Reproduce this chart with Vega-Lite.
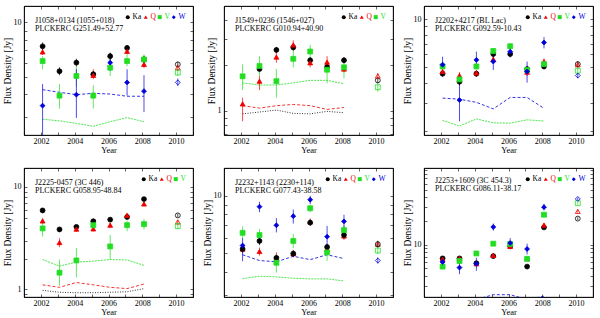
{
"$schema": "https://vega.github.io/schema/vega-lite/v6.json",
"background": "white",
"padding": {"left": 1, "top": 5, "right": 0, "bottom": 0},
"bounds": "flush",
"columns": 3,
"spacing": {"row": 33, "column": 31},
"datasets": {
"pts": [
{"p":1,"b":"Ka","x":2002.1,"y":7.37,"lo":7.0,"hi":7.75},{"p":1,"b":"Ka","x":2003.1,"y":5.37,"lo":5.1,"hi":5.65},{"p":1,"b":"Ka","x":2004.1,"y":5.99,"lo":5.7,"hi":6.3},{"p":1,"b":"Ka","x":2005.1,"y":5.17,"lo":4.95,"hi":5.4},{"p":1,"b":"Ka","x":2006.1,"y":6.5,"lo":6.2,"hi":6.8},{"p":1,"b":"Ka","x":2007.1,"y":7.22,"lo":6.95,"hi":7.5},{"p":1,"b":"Ka","x":2008.1,"y":6.24,"lo":5.95,"hi":6.55},{"p":1,"b":"Ka","x":2010.1,"y":5.86,"lo":5.65,"hi":6.05},
{"p":1,"b":"Q","x":2002.1,"y":6.87,"lo":6.6,"hi":7.15},{"p":1,"b":"Q","x":2005.1,"y":5.1,"lo":4.86,"hi":5.51},{"p":1,"b":"Q","x":2007.1,"y":6.92,"lo":6.65,"hi":7.2},{"p":1,"b":"Q","x":2008.1,"y":5.86,"lo":5.6,"hi":6.1},{"p":1,"b":"Q","x":2010.1,"y":5.62,"lo":5.4,"hi":5.85},
{"p":1,"b":"V","x":2002.1,"y":6.11,"lo":5.51,"hi":6.5},{"p":1,"b":"V","x":2003.1,"y":3.94,"lo":3.34,"hi":4.56},{"p":1,"b":"V","x":2004.1,"y":5.06,"lo":4.43,"hi":5.73},{"p":1,"b":"V","x":2005.1,"y":3.94,"lo":3.34,"hi":4.5},{"p":1,"b":"V","x":2006.1,"y":5.62,"lo":5.06,"hi":6.24},{"p":1,"b":"V","x":2007.1,"y":6.11,"lo":5.73,"hi":6.64},{"p":1,"b":"V","x":2008.1,"y":6.24,"lo":5.86,"hi":6.64},{"p":1,"b":"V","x":2010.1,"y":5.28,"lo":5.06,"hi":5.51},
{"p":1,"b":"W","x":2002.1,"y":3.47,"lo":2.2,"hi":4.56},{"p":1,"b":"W","x":2004.1,"y":3.99,"lo":2.97,"hi":5.51},{"p":1,"b":"W","x":2006.1,"y":5.99,"lo":5.39,"hi":6.78},{"p":1,"b":"W","x":2007.1,"y":4.66,"lo":3.94,"hi":5.51},{"p":1,"b":"W","x":2008.1,"y":4.17,"lo":3.2,"hi":5.11},{"p":1,"b":"W","x":2010.1,"y":4.66,"lo":4.45,"hi":4.9},
{"p":2,"b":"Ka","x":2003.1,"y":1.89,"lo":1.8,"hi":1.98},{"p":2,"b":"Ka","x":2004.1,"y":2.53,"lo":2.42,"hi":2.65},{"p":2,"b":"Ka","x":2005.1,"y":2.63,"lo":2.5,"hi":2.76},{"p":2,"b":"Ka","x":2006.1,"y":2.16,"lo":2.06,"hi":2.26},{"p":2,"b":"Ka","x":2007.1,"y":1.95,"lo":1.86,"hi":2.04},{"p":2,"b":"Ka","x":2008.1,"y":2.16,"lo":2.06,"hi":2.26},{"p":2,"b":"Ka","x":2010.1,"y":1.59,"lo":1.52,"hi":1.66},
{"p":2,"b":"Q","x":2002.1,"y":1.11,"lo":0.85,"hi":1.22},{"p":2,"b":"Q","x":2003.1,"y":1.57,"lo":1.37,"hi":1.71},{"p":2,"b":"Q","x":2004.1,"y":2.27,"lo":2.08,"hi":2.47},{"p":2,"b":"Q","x":2005.1,"y":2.73,"lo":2.53,"hi":2.93},{"p":2,"b":"Q","x":2006.1,"y":2.08,"lo":1.94,"hi":2.2},{"p":2,"b":"Q","x":2007.1,"y":2.1,"lo":1.94,"hi":2.3},{"p":2,"b":"Q","x":2008.1,"y":1.89,"lo":1.8,"hi":1.97},{"p":2,"b":"Q","x":2010.1,"y":1.7,"lo":1.62,"hi":1.78},
{"p":2,"b":"V","x":2002.1,"y":1.69,"lo":1.37,"hi":2.03},{"p":2,"b":"V","x":2003.1,"y":1.98,"lo":1.71,"hi":2.3},{"p":2,"b":"V","x":2004.1,"y":1.57,"lo":1.22,"hi":1.89},{"p":2,"b":"V","x":2005.1,"y":2.21,"lo":1.94,"hi":2.53},{"p":2,"b":"V","x":2006.1,"y":2.47,"lo":2.19,"hi":2.73},{"p":2,"b":"V","x":2007.1,"y":1.87,"lo":1.52,"hi":2.08},{"p":2,"b":"V","x":2008.1,"y":1.94,"lo":1.64,"hi":2.16},{"p":2,"b":"V","x":2010.1,"y":1.43,"lo":1.34,"hi":1.52},
{"p":3,"b":"Ka","x":2002.1,"y":4.55,"lo":4.35,"hi":4.75},{"p":3,"b":"Ka","x":2003.1,"y":4.05,"lo":3.85,"hi":4.25},{"p":3,"b":"Ka","x":2004.1,"y":4.55,"lo":4.35,"hi":4.75},{"p":3,"b":"Ka","x":2005.1,"y":6.04,"lo":5.8,"hi":6.3},{"p":3,"b":"Ka","x":2006.1,"y":6.04,"lo":5.8,"hi":6.3},{"p":3,"b":"Ka","x":2007.1,"y":4.86,"lo":4.65,"hi":5.1},{"p":3,"b":"Ka","x":2008.1,"y":5.05,"lo":4.85,"hi":5.25},{"p":3,"b":"Ka","x":2010.1,"y":5.22,"lo":5.0,"hi":5.45},
{"p":3,"b":"Q","x":2002.1,"y":4.7,"lo":4.5,"hi":4.9},{"p":3,"b":"Q","x":2003.1,"y":4.43,"lo":4.2,"hi":4.65},{"p":3,"b":"Q","x":2004.1,"y":4.6,"lo":4.4,"hi":4.8},{"p":3,"b":"Q","x":2005.1,"y":5.6,"lo":5.35,"hi":5.85},{"p":3,"b":"Q","x":2007.1,"y":4.65,"lo":4.4,"hi":4.9},{"p":3,"b":"Q","x":2008.1,"y":5.42,"lo":5.2,"hi":5.65},{"p":3,"b":"Q","x":2010.1,"y":5.18,"lo":4.95,"hi":5.4},
{"p":3,"b":"V","x":2002.1,"y":5.05,"lo":4.85,"hi":5.25},{"p":3,"b":"V","x":2003.1,"y":4.19,"lo":4.0,"hi":4.4},{"p":3,"b":"V","x":2004.1,"y":5.05,"lo":4.85,"hi":5.25},{"p":3,"b":"V","x":2005.1,"y":6.31,"lo":6.05,"hi":6.55},{"p":3,"b":"V","x":2006.1,"y":6.76,"lo":6.5,"hi":7.0},{"p":3,"b":"V","x":2007.1,"y":4.8,"lo":4.6,"hi":5.0},{"p":3,"b":"V","x":2008.1,"y":5.22,"lo":5.0,"hi":5.45},{"p":3,"b":"V","x":2010.1,"y":4.75,"lo":4.55,"hi":4.95},
{"p":3,"b":"W","x":2002.1,"y":5.18,"lo":4.39,"hi":5.81},{"p":3,"b":"W","x":2003.1,"y":3.11,"lo":2.29,"hi":3.9},{"p":3,"b":"W","x":2004.1,"y":5.55,"lo":4.93,"hi":6.25},{"p":3,"b":"W","x":2005.1,"y":5.42,"lo":4.8,"hi":6.1},{"p":3,"b":"W","x":2006.1,"y":6.25,"lo":5.75,"hi":6.7},{"p":3,"b":"W","x":2007.1,"y":4.7,"lo":4.0,"hi":5.42},{"p":3,"b":"W","x":2008.1,"y":7.13,"lo":6.55,"hi":7.71},{"p":3,"b":"W","x":2010.1,"y":4.43,"lo":4.25,"hi":4.6},
{"p":4,"b":"Ka","x":2002.1,"y":5.9,"lo":5.65,"hi":6.15},{"p":4,"b":"Ka","x":2003.1,"y":3.85,"lo":3.68,"hi":4.02},{"p":4,"b":"Ka","x":2004.1,"y":4.08,"lo":3.9,"hi":4.26},{"p":4,"b":"Ka","x":2005.1,"y":4.63,"lo":4.45,"hi":4.82},{"p":4,"b":"Ka","x":2006.1,"y":4.8,"lo":4.6,"hi":5.0},{"p":4,"b":"Ka","x":2007.1,"y":5.09,"lo":4.88,"hi":5.3},{"p":4,"b":"Ka","x":2008.1,"y":7.61,"lo":7.3,"hi":7.9},{"p":4,"b":"Ka","x":2010.1,"y":5.28,"lo":5.08,"hi":5.48},
{"p":4,"b":"Q","x":2002.1,"y":4.66,"lo":4.4,"hi":4.95},{"p":4,"b":"Q","x":2003.1,"y":2.87,"lo":2.59,"hi":3.16},{"p":4,"b":"Q","x":2004.1,"y":3.88,"lo":3.65,"hi":4.1},{"p":4,"b":"Q","x":2005.1,"y":3.9,"lo":3.68,"hi":4.12},{"p":4,"b":"Q","x":2006.1,"y":4.24,"lo":4.0,"hi":4.48},{"p":4,"b":"Q","x":2007.1,"y":5.28,"lo":5.0,"hi":5.55},{"p":4,"b":"Q","x":2008.1,"y":6.82,"lo":6.5,"hi":7.15},{"p":4,"b":"Q","x":2010.1,"y":4.56,"lo":4.35,"hi":4.78},
{"p":4,"b":"V","x":2002.1,"y":3.94,"lo":3.28,"hi":4.56},{"p":4,"b":"V","x":2003.1,"y":1.46,"lo":1.09,"hi":1.96},{"p":4,"b":"V","x":2004.1,"y":1.92,"lo":1.31,"hi":2.54},{"p":4,"b":"V","x":2005.1,"y":4.24,"lo":3.85,"hi":4.7},{"p":4,"b":"V","x":2006.1,"y":2.63,"lo":1.96,"hi":3.4},{"p":4,"b":"V","x":2007.1,"y":4.24,"lo":3.7,"hi":4.7},{"p":4,"b":"V","x":2008.1,"y":4.34,"lo":3.85,"hi":4.85},{"p":4,"b":"V","x":2010.1,"y":4.15,"lo":3.9,"hi":4.4},
{"p":5,"b":"Q","x":2002.1,"y":5.25,"lo":5.0,"hi":5.5},{"p":5,"b":"Q","x":2003.1,"y":5.1,"lo":4.85,"hi":5.35},{"p":5,"b":"Q","x":2004.1,"y":4.72,"lo":4.55,"hi":5.05},{"p":5,"b":"Q","x":2005.1,"y":4.97,"lo":4.75,"hi":5.2},{"p":5,"b":"Q","x":2006.1,"y":7.3,"lo":7.0,"hi":7.6},{"p":5,"b":"Q","x":2007.1,"y":5.25,"lo":5.0,"hi":5.5},{"p":5,"b":"Q","x":2008.1,"y":6.15,"lo":5.85,"hi":6.45},{"p":5,"b":"Q","x":2010.1,"y":5.57,"lo":5.35,"hi":5.8},
{"p":5,"b":"Ka","x":2002.1,"y":5.25,"lo":5.05,"hi":5.45},{"p":5,"b":"Ka","x":2003.1,"y":5.79,"lo":5.5,"hi":6.1},{"p":5,"b":"Ka","x":2004.1,"y":4.72,"lo":4.55,"hi":4.9},{"p":5,"b":"Ka","x":2005.1,"y":4.97,"lo":4.78,"hi":5.16},{"p":5,"b":"Ka","x":2006.1,"y":7.23,"lo":6.95,"hi":7.5},{"p":5,"b":"Ka","x":2007.1,"y":5.38,"lo":5.15,"hi":5.6},{"p":5,"b":"Ka","x":2008.1,"y":6.22,"lo":5.95,"hi":6.5},{"p":5,"b":"Ka","x":2010.1,"y":5.57,"lo":5.35,"hi":5.8},
{"p":5,"b":"V","x":2002.1,"y":6.39,"lo":5.9,"hi":6.9},{"p":5,"b":"V","x":2003.1,"y":6.22,"lo":5.8,"hi":6.7},{"p":5,"b":"V","x":2004.1,"y":4.45,"lo":3.95,"hi":4.9},{"p":5,"b":"V","x":2005.1,"y":5.79,"lo":5.3,"hi":6.3},{"p":5,"b":"V","x":2006.1,"y":8.6,"lo":8.2,"hi":9.0},{"p":5,"b":"V","x":2007.1,"y":5.04,"lo":4.55,"hi":5.3},{"p":5,"b":"V","x":2008.1,"y":6.6,"lo":6.2,"hi":7.0},{"p":5,"b":"V","x":2010.1,"y":5.16,"lo":4.95,"hi":5.4},
{"p":5,"b":"W","x":2002.1,"y":5.48,"lo":4.53,"hi":5.98},{"p":5,"b":"W","x":2003.1,"y":8.77,"lo":8.2,"hi":9.3},{"p":5,"b":"W","x":2004.1,"y":7.0,"lo":6.42,"hi":7.64},{"p":5,"b":"W","x":2005.1,"y":7.82,"lo":7.15,"hi":8.47},{"p":5,"b":"W","x":2006.1,"y":9.54,"lo":9.06,"hi":10.0},{"p":5,"b":"W","x":2007.1,"y":6.1,"lo":5.35,"hi":6.95},{"p":5,"b":"W","x":2008.1,"y":7.34,"lo":6.73,"hi":7.95},{"p":5,"b":"W","x":2010.1,"y":4.57,"lo":4.4,"hi":4.75},
{"p":6,"b":"Ka","x":2002.1,"y":6.68,"lo":6.4,"hi":6.95},{"p":6,"b":"Ka","x":2003.1,"y":6.68,"lo":6.4,"hi":6.95},{"p":6,"b":"Ka","x":2004.1,"y":5.79,"lo":5.4,"hi":6.2},{"p":6,"b":"Ka","x":2005.1,"y":7.14,"lo":6.85,"hi":7.45},{"p":6,"b":"Ka","x":2006.1,"y":9.52,"lo":9.1,"hi":9.95},{"p":6,"b":"Ka","x":2007.1,"y":5.25,"lo":5.0,"hi":5.5},{"p":6,"b":"Ka","x":2008.1,"y":16.6,"lo":15.9,"hi":17.3},{"p":6,"b":"Ka","x":2010.1,"y":21.5,"lo":20.6,"hi":22.4},
{"p":6,"b":"Q","x":2002.1,"y":6.5,"lo":6.2,"hi":6.8},{"p":6,"b":"Q","x":2003.1,"y":6.68,"lo":6.35,"hi":7.0},{"p":6,"b":"Q","x":2004.1,"y":5.7,"lo":5.4,"hi":6.0},{"p":6,"b":"Q","x":2005.1,"y":7.3,"lo":6.9,"hi":7.8},{"p":6,"b":"Q","x":2006.1,"y":9.5,"lo":9.0,"hi":10.0},{"p":6,"b":"Q","x":2007.1,"y":6.6,"lo":6.3,"hi":6.9},{"p":6,"b":"Q","x":2008.1,"y":17.8,"lo":17.0,"hi":18.6},{"p":6,"b":"Q","x":2010.1,"y":26.6,"lo":25.5,"hi":27.7},
{"p":6,"b":"V","x":2002.1,"y":5.25,"lo":5.0,"hi":5.5},{"p":6,"b":"V","x":2003.1,"y":6.18,"lo":5.9,"hi":6.5},{"p":6,"b":"V","x":2004.1,"y":7.72,"lo":7.35,"hi":8.1},{"p":6,"b":"V","x":2005.1,"y":10.3,"lo":9.8,"hi":10.8},{"p":6,"b":"V","x":2006.1,"y":10.2,"lo":9.7,"hi":10.7},{"p":6,"b":"V","x":2007.1,"y":6.6,"lo":6.2,"hi":7.0},{"p":6,"b":"V","x":2008.1,"y":24.1,"lo":23.0,"hi":25.2},{"p":6,"b":"V","x":2010.1,"y":33.8,"lo":32.3,"hi":35.3},
{"p":6,"b":"W","x":2002.1,"y":6.01,"lo":5.6,"hi":6.45},{"p":6,"b":"W","x":2003.1,"y":5.1,"lo":4.2,"hi":6.2},{"p":6,"b":"W","x":2004.1,"y":5.7,"lo":4.64,"hi":6.8},{"p":6,"b":"W","x":2005.1,"y":16.8,"lo":15.1,"hi":18.6},{"p":6,"b":"W","x":2006.1,"y":10.5,"lo":8.8,"hi":12.1},{"p":6,"b":"W","x":2007.1,"y":8.81,"lo":7.5,"hi":10.3},{"p":6,"b":"W","x":2008.1,"y":30.1,"lo":27.4,"hi":33.1},{"p":6,"b":"W","x":2010.1,"y":38.3,"lo":36.5,"hi":40.0}
],
"lines": [
{"p":1,"b":"W","x":2002.1,"y":4.25},{"p":1,"b":"W","x":2003.1,"y":4.11},{"p":1,"b":"W","x":2004.1,"y":3.99},{"p":1,"b":"W","x":2005.1,"y":4.06},{"p":1,"b":"W","x":2006.1,"y":4.02},{"p":1,"b":"W","x":2007.1,"y":3.91},{"p":1,"b":"W","x":2008.1,"y":3.91},
{"p":1,"b":"V","x":2002.1,"y":2.92},{"p":1,"b":"V","x":2003.1,"y":2.86},{"p":1,"b":"V","x":2004.1,"y":2.77},{"p":1,"b":"V","x":2005.1,"y":2.67},{"p":1,"b":"V","x":2006.1,"y":2.83},{"p":1,"b":"V","x":2007.1,"y":2.98},{"p":1,"b":"V","x":2008.1,"y":2.83},
{"p":2,"b":"V","x":2002.1,"y":1.53},{"p":2,"b":"V","x":2003.1,"y":1.48},{"p":2,"b":"V","x":2004.1,"y":1.48},{"p":2,"b":"V","x":2005.1,"y":1.53},{"p":2,"b":"V","x":2006.1,"y":1.59},{"p":2,"b":"V","x":2007.1,"y":1.59},{"p":2,"b":"V","x":2008.1,"y":1.51},
{"p":2,"b":"Q","x":2002.1,"y":1.08},{"p":2,"b":"Q","x":2003.1,"y":1.04},{"p":2,"b":"Q","x":2004.1,"y":1.08},{"p":2,"b":"Q","x":2005.1,"y":1.1},{"p":2,"b":"Q","x":2006.1,"y":1.08},{"p":2,"b":"Q","x":2007.1,"y":1.02},{"p":2,"b":"Q","x":2008.1,"y":1.05},
{"p":2,"b":"Ka","x":2002.1,"y":0.953},{"p":2,"b":"Ka","x":2003.1,"y":0.98},{"p":2,"b":"Ka","x":2004.1,"y":1.01},{"p":2,"b":"Ka","x":2005.1,"y":0.96},{"p":2,"b":"Ka","x":2006.1,"y":0.953},{"p":2,"b":"Ka","x":2007.1,"y":0.99},{"p":2,"b":"Ka","x":2008.1,"y":0.97},
{"p":3,"b":"W","x":2002.1,"y":3.2},{"p":3,"b":"W","x":2003.1,"y":3.15},{"p":3,"b":"W","x":2004.1,"y":3.01},{"p":3,"b":"W","x":2005.1,"y":2.74},{"p":3,"b":"W","x":2006.1,"y":3.23},{"p":3,"b":"W","x":2007.1,"y":3.23},{"p":3,"b":"W","x":2008.1,"y":2.76},
{"p":3,"b":"V","x":2002.1,"y":2.32},{"p":3,"b":"V","x":2003.1,"y":2.14},{"p":3,"b":"V","x":2004.1,"y":2.37},{"p":3,"b":"V","x":2005.1,"y":2.24},{"p":3,"b":"V","x":2006.1,"y":2.23},{"p":3,"b":"V","x":2007.1,"y":2.34},{"p":3,"b":"V","x":2008.1,"y":2.3},
{"p":4,"b":"V","x":2002.1,"y":1.96},{"p":4,"b":"V","x":2003.1,"y":1.69},{"p":4,"b":"V","x":2004.1,"y":1.85},{"p":4,"b":"V","x":2005.1,"y":1.89},{"p":4,"b":"V","x":2006.1,"y":1.96},{"p":4,"b":"V","x":2007.1,"y":1.94},{"p":4,"b":"V","x":2008.1,"y":1.72},
{"p":4,"b":"Q","x":2002.1,"y":1.11},{"p":4,"b":"Q","x":2003.1,"y":1.05},{"p":4,"b":"Q","x":2004.1,"y":1.17},{"p":4,"b":"Q","x":2005.1,"y":1.11},{"p":4,"b":"Q","x":2006.1,"y":1.05},{"p":4,"b":"Q","x":2007.1,"y":1.02},{"p":4,"b":"Q","x":2008.1,"y":1.13},
{"p":4,"b":"Ka","x":2002.1,"y":0.98},{"p":4,"b":"Ka","x":2003.1,"y":0.94},{"p":4,"b":"Ka","x":2004.1,"y":0.93},{"p":4,"b":"Ka","x":2005.1,"y":0.93},{"p":4,"b":"Ka","x":2006.1,"y":0.94},{"p":4,"b":"Ka","x":2007.1,"y":0.95},{"p":4,"b":"Ka","x":2008.1,"y":1.02},
{"p":5,"b":"W","x":2002.1,"y":4.9},{"p":5,"b":"W","x":2003.1,"y":4.57},{"p":5,"b":"W","x":2004.1,"y":4.5},{"p":5,"b":"W","x":2005.1,"y":4.81},{"p":5,"b":"W","x":2006.1,"y":4.62},{"p":5,"b":"W","x":2007.1,"y":4.9},{"p":5,"b":"W","x":2008.1,"y":4.68},
{"p":5,"b":"V","x":2002.1,"y":3.67},{"p":5,"b":"V","x":2003.1,"y":3.78},{"p":5,"b":"V","x":2004.1,"y":3.75},{"p":5,"b":"V","x":2005.1,"y":3.69},{"p":5,"b":"V","x":2006.1,"y":3.66},{"p":5,"b":"V","x":2007.1,"y":3.66},{"p":5,"b":"V","x":2008.1,"y":3.57},
{"p":6,"b":"W","x":2002.1,"y":1.9},{"p":6,"b":"W","x":2003.1,"y":1.9},{"p":6,"b":"W","x":2004.1,"y":2.0},{"p":6,"b":"W","x":2005.1,"y":2.3},{"p":6,"b":"W","x":2006.1,"y":2.3},{"p":6,"b":"W","x":2007.1,"y":2.0},{"p":6,"b":"W","x":2008.1,"y":2.2}
]
},
"concat": [
{
"width": 169, "height": 129,
"title": {"text": ["J1058+0134 (1055+018)", "PLCKERC G251.49+52.77"]},
"resolve": {"axis": {"x": "independent", "y": "independent"}},
"layer": [
{"data": {"name": "lines"}, "transform": [{"filter": "datum.p == 1"}], "mark": {"type": "line", "strokeWidth": 0.8, "clip": true}, "encoding": {
"x": {"field": "x", "type": "quantitative", "title": "Year", "scale": {"domain": [2001, 2011], "nice": false, "zero": false}, "axis": {"values": [2001,2002,2003,2004,2005,2006,2007,2008,2009,2010,2011], "labelExpr": "datum.value % 2 == 0 ? format(datum.value, 'd') : ''"}},
"y": {"field": "y", "type": "quantitative", "title": "Flux Density [Jy]", "scale": {"type": "log", "domain": [2.39, 12.3], "nice": false}, "axis": {"values": [3,4,5,6,7,8,9,10], "labelExpr": "datum.value == 1 || datum.value == 10 ? format(datum.value, 'd') : ''"}},
"stroke": {"field": "b", "type": "nominal", "scale": {"domain": ["Ka","Q","V","W"], "range": ["#000000","#ee0000","#22dd22","#0000dd"]}, "legend": null}, "strokeDash": {"field": "b", "type": "nominal", "scale": {"domain": ["Ka","Q","V","W"], "range": [[1,1.5],[3,2],[2,1],[3,2]]}, "legend": null}}},
{"data": {"name": "pts"}, "transform": [{"filter": "datum.p == 1"}], "mark": {"type": "rule", "strokeWidth": 0.7, "clip": true}, "encoding": {
"x": {"field": "x", "type": "quantitative", "title": null, "scale": {"domain": [2001, 2011], "nice": false, "zero": false}, "axis": {"orient": "top", "values": [2001,2002,2003,2004,2005,2006,2007,2008,2009,2010,2011], "labels": false, "title": null}},
"y": {"field": "lo", "type": "quantitative", "title": null, "scale": {"type": "log", "domain": [2.39, 12.3], "nice": false}, "axis": {"orient": "right", "values": [3,4,5,6,7,8,9,10], "labels": false, "title": null}}, "y2": {"field": "hi"},
"stroke": {"field": "b", "type": "nominal", "scale": {"domain": ["Ka","Q","V","W"], "range": ["#000000","#ee0000","#22dd22","#0000dd"]}, "legend": null}}},
{"data": {"name": "pts"}, "transform": [{"filter": "datum.p == 1"}], "mark": {"type": "point", "filled": true, "size": 24, "strokeWidth": 0.8, "opacity": 1, "clip": true}, "encoding": {
"x": {"field": "x", "type": "quantitative", "scale": {"domain": [2001, 2011], "nice": false, "zero": false}, "axis": null},
"y": {"field": "y", "type": "quantitative", "scale": {"type": "log", "domain": [2.39, 12.3], "nice": false}, "axis": null},
"fill": {"field": "b", "type": "nominal", "scale": {"range": ["#000000","#ee0000","#22dd22","#0000dd"]}, "legend": {"title": null, "labelColor": {"expr": "datum.value == 'Ka' ? '#000000' : datum.value == 'Q' ? '#ee0000' : datum.value == 'V' ? '#22dd22' : '#0000dd'"}}},
"shape": {"field": "b", "type": "nominal", "scale": {"range": ["circle","triangle-up","square","diamond"]}, "legend": {"title": null}},
"stroke": {"field": "b", "type": "nominal", "scale": {"domain": ["Ka","Q","V","W"], "range": ["#000000","#ee0000","#22dd22","#0000dd"]}, "legend": null},
"fillOpacity": {"condition": {"test": "datum.x > 2009", "value": 0}, "value": 1}}}
]
},
{
"width": 169, "height": 129,
"title": {"text": ["J1549+0236 (1546+027)", "PLCKERC G010.94+40.90"]},
"resolve": {"axis": {"x": "independent", "y": "independent"}},
"layer": [
{"data": {"name": "lines"}, "transform": [{"filter": "datum.p == 2"}], "mark": {"type": "line", "strokeWidth": 0.8, "clip": true}, "encoding": {
"x": {"field": "x", "type": "quantitative", "title": "Year", "scale": {"domain": [2001, 2011], "nice": false, "zero": false}, "axis": {"values": [2001,2002,2003,2004,2005,2006,2007,2008,2009,2010,2011], "labelExpr": "datum.value % 2 == 0 ? format(datum.value, 'd') : ''"}},
"y": {"field": "y", "type": "quantitative", "title": "Flux Density [Jy]", "scale": {"type": "log", "domain": [0.69, 4.95], "nice": false}, "axis": {"values": [0.7,0.8,0.9,1,2,3,4], "labelExpr": "datum.value == 1 || datum.value == 10 ? format(datum.value, 'd') : ''"}},
"stroke": {"field": "b", "type": "nominal", "scale": {"domain": ["Ka","Q","V","W"], "range": ["#000000","#ee0000","#22dd22","#0000dd"]}, "legend": null}, "strokeDash": {"field": "b", "type": "nominal", "scale": {"domain": ["Ka","Q","V","W"], "range": [[1,1.5],[3,2],[2,1],[3,2]]}, "legend": null}}},
{"data": {"name": "pts"}, "transform": [{"filter": "datum.p == 2"}], "mark": {"type": "rule", "strokeWidth": 0.7, "clip": true}, "encoding": {
"x": {"field": "x", "type": "quantitative", "title": null, "scale": {"domain": [2001, 2011], "nice": false, "zero": false}, "axis": {"orient": "top", "values": [2001,2002,2003,2004,2005,2006,2007,2008,2009,2010,2011], "labels": false, "title": null}},
"y": {"field": "lo", "type": "quantitative", "title": null, "scale": {"type": "log", "domain": [0.69, 4.95], "nice": false}, "axis": {"orient": "right", "values": [0.7,0.8,0.9,1,2,3,4], "labels": false, "title": null}}, "y2": {"field": "hi"},
"stroke": {"field": "b", "type": "nominal", "scale": {"domain": ["Ka","Q","V","W"], "range": ["#000000","#ee0000","#22dd22","#0000dd"]}, "legend": null}}},
{"data": {"name": "pts"}, "transform": [{"filter": "datum.p == 2"}], "mark": {"type": "point", "filled": true, "size": 24, "strokeWidth": 0.8, "opacity": 1, "clip": true}, "encoding": {
"x": {"field": "x", "type": "quantitative", "scale": {"domain": [2001, 2011], "nice": false, "zero": false}, "axis": null},
"y": {"field": "y", "type": "quantitative", "scale": {"type": "log", "domain": [0.69, 4.95], "nice": false}, "axis": null},
"fill": {"field": "b", "type": "nominal", "scale": {"range": ["#000000","#ee0000","#22dd22"]}, "legend": {"title": null, "labelColor": {"expr": "datum.value == 'Ka' ? '#000000' : datum.value == 'Q' ? '#ee0000' : datum.value == 'V' ? '#22dd22' : '#0000dd'"}}},
"shape": {"field": "b", "type": "nominal", "scale": {"range": ["circle","triangle-up","square"]}, "legend": {"title": null}},
"stroke": {"field": "b", "type": "nominal", "scale": {"domain": ["Ka","Q","V","W"], "range": ["#000000","#ee0000","#22dd22","#0000dd"]}, "legend": null},
"fillOpacity": {"condition": {"test": "datum.x > 2009", "value": 0}, "value": 1}}}
]
},
{
"width": 169, "height": 129,
"title": {"text": ["J2202+4217 (BL Lac)", "PLCKERC G092.59-10.43"]},
"resolve": {"axis": {"x": "independent", "y": "independent"}},
"layer": [
{"data": {"name": "lines"}, "transform": [{"filter": "datum.p == 3"}], "mark": {"type": "line", "strokeWidth": 0.8, "clip": true}, "encoding": {
"x": {"field": "x", "type": "quantitative", "title": "Year", "scale": {"domain": [2001, 2011], "nice": false, "zero": false}, "axis": {"values": [2001,2002,2003,2004,2005,2006,2007,2008,2009,2010,2011], "labelExpr": "datum.value % 2 == 0 ? format(datum.value, 'd') : ''"}},
"y": {"field": "y", "type": "quantitative", "title": "Flux Density [Jy]", "scale": {"type": "log", "domain": [1.88, 12.07], "nice": false}, "axis": {"values": [2,3,4,5,6,7,8,9,10], "labelExpr": "datum.value == 1 || datum.value == 10 ? format(datum.value, 'd') : ''"}},
"stroke": {"field": "b", "type": "nominal", "scale": {"domain": ["Ka","Q","V","W"], "range": ["#000000","#ee0000","#22dd22","#0000dd"]}, "legend": null}, "strokeDash": {"field": "b", "type": "nominal", "scale": {"domain": ["Ka","Q","V","W"], "range": [[1,1.5],[3,2],[2,1],[3,2]]}, "legend": null}}},
{"data": {"name": "pts"}, "transform": [{"filter": "datum.p == 3"}], "mark": {"type": "rule", "strokeWidth": 0.7, "clip": true}, "encoding": {
"x": {"field": "x", "type": "quantitative", "title": null, "scale": {"domain": [2001, 2011], "nice": false, "zero": false}, "axis": {"orient": "top", "values": [2001,2002,2003,2004,2005,2006,2007,2008,2009,2010,2011], "labels": false, "title": null}},
"y": {"field": "lo", "type": "quantitative", "title": null, "scale": {"type": "log", "domain": [1.88, 12.07], "nice": false}, "axis": {"orient": "right", "values": [2,3,4,5,6,7,8,9,10], "labels": false, "title": null}}, "y2": {"field": "hi"},
"stroke": {"field": "b", "type": "nominal", "scale": {"domain": ["Ka","Q","V","W"], "range": ["#000000","#ee0000","#22dd22","#0000dd"]}, "legend": null}}},
{"data": {"name": "pts"}, "transform": [{"filter": "datum.p == 3"}], "mark": {"type": "point", "filled": true, "size": 24, "strokeWidth": 0.8, "opacity": 1, "clip": true}, "encoding": {
"x": {"field": "x", "type": "quantitative", "scale": {"domain": [2001, 2011], "nice": false, "zero": false}, "axis": null},
"y": {"field": "y", "type": "quantitative", "scale": {"type": "log", "domain": [1.88, 12.07], "nice": false}, "axis": null},
"fill": {"field": "b", "type": "nominal", "scale": {"range": ["#000000","#ee0000","#22dd22","#0000dd"]}, "legend": {"title": null, "labelColor": {"expr": "datum.value == 'Ka' ? '#000000' : datum.value == 'Q' ? '#ee0000' : datum.value == 'V' ? '#22dd22' : '#0000dd'"}}},
"shape": {"field": "b", "type": "nominal", "scale": {"range": ["circle","triangle-up","square","diamond"]}, "legend": {"title": null}},
"stroke": {"field": "b", "type": "nominal", "scale": {"domain": ["Ka","Q","V","W"], "range": ["#000000","#ee0000","#22dd22","#0000dd"]}, "legend": null},
"fillOpacity": {"condition": {"test": "datum.x > 2009", "value": 0}, "value": 1}}}
]
},
{
"width": 169, "height": 129,
"title": {"text": ["J2225-0457 (3C 446)", "PLCKERC G058.95-48.84"]},
"resolve": {"axis": {"x": "independent", "y": "independent"}},
"layer": [
{"data": {"name": "lines"}, "transform": [{"filter": "datum.p == 4"}], "mark": {"type": "line", "strokeWidth": 0.8, "clip": true}, "encoding": {
"x": {"field": "x", "type": "quantitative", "title": "Year", "scale": {"domain": [2001, 2011], "nice": false, "zero": false}, "axis": {"values": [2001,2002,2003,2004,2005,2006,2007,2008,2009,2010,2011], "labelExpr": "datum.value % 2 == 0 ? format(datum.value, 'd') : ''"}},
"y": {"field": "y", "type": "quantitative", "title": "Flux Density [Jy]", "scale": {"type": "log", "domain": [0.845, 15.3], "nice": false}, "axis": {"values": [0.9,1,2,3,4,5,6,7,8,9,10], "labelExpr": "datum.value == 1 || datum.value == 10 ? format(datum.value, 'd') : ''"}},
"stroke": {"field": "b", "type": "nominal", "scale": {"domain": ["Ka","Q","V","W"], "range": ["#000000","#ee0000","#22dd22","#0000dd"]}, "legend": null}, "strokeDash": {"field": "b", "type": "nominal", "scale": {"domain": ["Ka","Q","V","W"], "range": [[1,1.5],[3,2],[2,1],[3,2]]}, "legend": null}}},
{"data": {"name": "pts"}, "transform": [{"filter": "datum.p == 4"}], "mark": {"type": "rule", "strokeWidth": 0.7, "clip": true}, "encoding": {
"x": {"field": "x", "type": "quantitative", "title": null, "scale": {"domain": [2001, 2011], "nice": false, "zero": false}, "axis": {"orient": "top", "values": [2001,2002,2003,2004,2005,2006,2007,2008,2009,2010,2011], "labels": false, "title": null}},
"y": {"field": "lo", "type": "quantitative", "title": null, "scale": {"type": "log", "domain": [0.845, 15.3], "nice": false}, "axis": {"orient": "right", "values": [0.9,1,2,3,4,5,6,7,8,9,10], "labels": false, "title": null}}, "y2": {"field": "hi"},
"stroke": {"field": "b", "type": "nominal", "scale": {"domain": ["Ka","Q","V","W"], "range": ["#000000","#ee0000","#22dd22","#0000dd"]}, "legend": null}}},
{"data": {"name": "pts"}, "transform": [{"filter": "datum.p == 4"}], "mark": {"type": "point", "filled": true, "size": 24, "strokeWidth": 0.8, "opacity": 1, "clip": true}, "encoding": {
"x": {"field": "x", "type": "quantitative", "scale": {"domain": [2001, 2011], "nice": false, "zero": false}, "axis": null},
"y": {"field": "y", "type": "quantitative", "scale": {"type": "log", "domain": [0.845, 15.3], "nice": false}, "axis": null},
"fill": {"field": "b", "type": "nominal", "scale": {"range": ["#000000","#ee0000","#22dd22"]}, "legend": {"title": null, "labelColor": {"expr": "datum.value == 'Ka' ? '#000000' : datum.value == 'Q' ? '#ee0000' : datum.value == 'V' ? '#22dd22' : '#0000dd'"}}},
"shape": {"field": "b", "type": "nominal", "scale": {"range": ["circle","triangle-up","square"]}, "legend": {"title": null}},
"stroke": {"field": "b", "type": "nominal", "scale": {"domain": ["Ka","Q","V","W"], "range": ["#000000","#ee0000","#22dd22","#0000dd"]}, "legend": null},
"fillOpacity": {"condition": {"test": "datum.x > 2009", "value": 0}, "value": 1}}}
]
},
{
"width": 169, "height": 129,
"title": {"text": ["J2232+1143 (2230+114)", "PLCKERC G077.43-38.58"]},
"resolve": {"axis": {"x": "independent", "y": "independent"}},
"layer": [
{"data": {"name": "lines"}, "transform": [{"filter": "datum.p == 5"}], "mark": {"type": "line", "strokeWidth": 0.8, "clip": true}, "encoding": {
"x": {"field": "x", "type": "quantitative", "title": "Year", "scale": {"domain": [2001, 2011], "nice": false, "zero": false}, "axis": {"values": [2001,2002,2003,2004,2005,2006,2007,2008,2009,2010,2011], "labelExpr": "datum.value % 2 == 0 ? format(datum.value, 'd') : ''"}},
"y": {"field": "y", "type": "quantitative", "title": "Flux Density [Jy]", "scale": {"type": "log", "domain": [2.94, 14.0], "nice": false}, "axis": {"values": [3,4,5,6,7,8,9,10], "labelExpr": "datum.value == 1 || datum.value == 10 ? format(datum.value, 'd') : ''"}},
"stroke": {"field": "b", "type": "nominal", "scale": {"domain": ["Ka","Q","V","W"], "range": ["#000000","#ee0000","#22dd22","#0000dd"]}, "legend": null}, "strokeDash": {"field": "b", "type": "nominal", "scale": {"domain": ["Ka","Q","V","W"], "range": [[1,1.5],[3,2],[2,1],[3,2]]}, "legend": null}}},
{"data": {"name": "pts"}, "transform": [{"filter": "datum.p == 5"}], "mark": {"type": "rule", "strokeWidth": 0.7, "clip": true}, "encoding": {
"x": {"field": "x", "type": "quantitative", "title": null, "scale": {"domain": [2001, 2011], "nice": false, "zero": false}, "axis": {"orient": "top", "values": [2001,2002,2003,2004,2005,2006,2007,2008,2009,2010,2011], "labels": false, "title": null}},
"y": {"field": "lo", "type": "quantitative", "title": null, "scale": {"type": "log", "domain": [2.94, 14.0], "nice": false}, "axis": {"orient": "right", "values": [3,4,5,6,7,8,9,10], "labels": false, "title": null}}, "y2": {"field": "hi"},
"stroke": {"field": "b", "type": "nominal", "scale": {"domain": ["Ka","Q","V","W"], "range": ["#000000","#ee0000","#22dd22","#0000dd"]}, "legend": null}}},
{"data": {"name": "pts"}, "transform": [{"filter": "datum.p == 5"}], "mark": {"type": "point", "filled": true, "size": 24, "strokeWidth": 0.8, "opacity": 1, "clip": true}, "encoding": {
"x": {"field": "x", "type": "quantitative", "scale": {"domain": [2001, 2011], "nice": false, "zero": false}, "axis": null},
"y": {"field": "y", "type": "quantitative", "scale": {"type": "log", "domain": [2.94, 14.0], "nice": false}, "axis": null},
"fill": {"field": "b", "type": "nominal", "scale": {"range": ["#000000","#ee0000","#22dd22","#0000dd"]}, "legend": {"title": null, "labelColor": {"expr": "datum.value == 'Ka' ? '#000000' : datum.value == 'Q' ? '#ee0000' : datum.value == 'V' ? '#22dd22' : '#0000dd'"}}},
"shape": {"field": "b", "type": "nominal", "scale": {"range": ["circle","triangle-up","square","diamond"]}, "legend": {"title": null}},
"stroke": {"field": "b", "type": "nominal", "scale": {"domain": ["Ka","Q","V","W"], "range": ["#000000","#ee0000","#22dd22","#0000dd"]}, "legend": null},
"fillOpacity": {"condition": {"test": "datum.x > 2009", "value": 0}, "value": 1}}}
]
},
{
"width": 169, "height": 129,
"title": {"text": ["J2253+1609 (3C 454.3)", "PLCKERC G086.11-38.17"]},
"resolve": {"axis": {"x": "independent", "y": "independent"}},
"layer": [
{"data": {"name": "lines"}, "transform": [{"filter": "datum.p == 6"}], "mark": {"type": "line", "strokeWidth": 0.8, "clip": true}, "encoding": {
"x": {"field": "x", "type": "quantitative", "title": "Year", "scale": {"domain": [2001, 2011], "nice": false, "zero": false}, "axis": {"values": [2001,2002,2003,2004,2005,2006,2007,2008,2009,2010,2011], "labelExpr": "datum.value % 2 == 0 ? format(datum.value, 'd') : ''"}},
"y": {"field": "y", "type": "quantitative", "title": "Flux Density [Jy]", "scale": {"type": "log", "domain": [2.15, 95], "nice": false}, "axis": {"values": [3,4,5,6,7,8,9,10,20,30,40,50,60,70,80,90], "labelExpr": "datum.value == 1 || datum.value == 10 ? format(datum.value, 'd') : ''"}},
"stroke": {"field": "b", "type": "nominal", "scale": {"domain": ["Ka","Q","V","W"], "range": ["#000000","#ee0000","#22dd22","#0000dd"]}, "legend": null}, "strokeDash": {"field": "b", "type": "nominal", "scale": {"domain": ["Ka","Q","V","W"], "range": [[1,1.5],[3,2],[2,1],[3,2]]}, "legend": null}}},
{"data": {"name": "pts"}, "transform": [{"filter": "datum.p == 6"}], "mark": {"type": "rule", "strokeWidth": 0.7, "clip": true}, "encoding": {
"x": {"field": "x", "type": "quantitative", "title": null, "scale": {"domain": [2001, 2011], "nice": false, "zero": false}, "axis": {"orient": "top", "values": [2001,2002,2003,2004,2005,2006,2007,2008,2009,2010,2011], "labels": false, "title": null}},
"y": {"field": "lo", "type": "quantitative", "title": null, "scale": {"type": "log", "domain": [2.15, 95], "nice": false}, "axis": {"orient": "right", "values": [3,4,5,6,7,8,9,10,20,30,40,50,60,70,80,90], "labels": false, "title": null}}, "y2": {"field": "hi"},
"stroke": {"field": "b", "type": "nominal", "scale": {"domain": ["Ka","Q","V","W"], "range": ["#000000","#ee0000","#22dd22","#0000dd"]}, "legend": null}}},
{"data": {"name": "pts"}, "transform": [{"filter": "datum.p == 6"}], "mark": {"type": "point", "filled": true, "size": 24, "strokeWidth": 0.8, "opacity": 1, "clip": true}, "encoding": {
"x": {"field": "x", "type": "quantitative", "scale": {"domain": [2001, 2011], "nice": false, "zero": false}, "axis": null},
"y": {"field": "y", "type": "quantitative", "scale": {"type": "log", "domain": [2.15, 95], "nice": false}, "axis": null},
"fill": {"field": "b", "type": "nominal", "scale": {"range": ["#000000","#ee0000","#22dd22","#0000dd"]}, "legend": {"title": null, "labelColor": {"expr": "datum.value == 'Ka' ? '#000000' : datum.value == 'Q' ? '#ee0000' : datum.value == 'V' ? '#22dd22' : '#0000dd'"}}},
"shape": {"field": "b", "type": "nominal", "scale": {"range": ["circle","triangle-up","square","diamond"]}, "legend": {"title": null}},
"stroke": {"field": "b", "type": "nominal", "scale": {"domain": ["Ka","Q","V","W"], "range": ["#000000","#ee0000","#22dd22","#0000dd"]}, "legend": null},
"fillOpacity": {"condition": {"test": "datum.x > 2009", "value": 0}, "value": 1}}}
]
}
],
"resolve": {"scale": {"x": "independent", "y": "independent", "fill": "independent", "shape": "independent", "stroke": "independent", "strokeDash": "independent"}, "legend": {"fill": "independent", "shape": "independent"}},
"config": {
"view": {"stroke": "#000000", "strokeWidth": 0.8},
"axis": {"labelFont": "Liberation Serif", "titleFont": "Liberation Serif", "labelFontSize": 8, "titleFontSize": 8.5, "titleFontWeight": "normal", "labelColor": "#000000", "titleColor": "#000000", "tickColor": "#000000", "domainColor": "#000000", "domainWidth": 0.8, "tickWidth": 0.6, "grid": false, "tickSize": -3, "labelOverlap": false, "labelFlush": false, "labelBound": false},
"axisX": {"labelPadding": 5, "titlePadding": 0},
"axisY": {"labelPadding": 6, "titlePadding": 1, "titleFontSize": 9.5},
"title": {"font": "Liberation Serif", "fontSize": 8, "fontWeight": "normal", "anchor": "start", "frame": "group", "dx": 11, "dy": 31, "offset": 0, "lineHeight": 8, "color": "#000000"},
"legend": {"orient": "top-right", "direction": "horizontal", "offset": 5, "padding": 2, "labelFont": "Liberation Serif", "labelFontSize": 7.5, "symbolSize": 16, "columnPadding": -2, "labelOffset": 1, "symbolStrokeWidth": 0}
}
}
